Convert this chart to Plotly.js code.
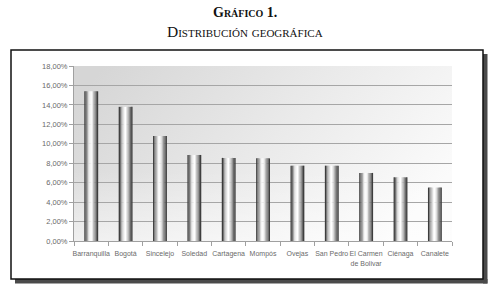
<!DOCTYPE html>
<html>
<head>
<meta charset="utf-8">
<script src="https://cdn.plot.ly/plotly-3.0.1.min.js"></script>
<style>html,body{margin:0;padding:0;background:#fff;}#chart{width:490px;height:286px;}</style>
</head>
<body>
<div id="chart"></div>
<script>
var categories = ["Barranquilla", "Bogotá", "Sincelejo", "Soledad", "Cartagena", "Mompós", "Ovejas", "San Pedro", "El Carmen<br>de Bolivar", "Ciénaga", "Canalete"];
var values = [15.4, 13.8, 10.8, 8.85, 8.55, 8.5, 7.75, 7.75, 7.0, 6.55, 5.5];
var yTicks = [0, 2, 4, 6, 8, 10, 12, 14, 16, 18];
var yTickText = yTicks.map(function (v) { return v.toFixed(2).replace(".", ",") + "%"; });
var chartTitle = "Gráfico 1.";
var chartSubtitle = "Distribución geográfica";

var W = 490, H = 286;
var M = {l: 74, r: 38, t: 66, b: 45};
var pw = W - M.l - M.r, ph = H - M.t - M.b;
function px(x) { return (x - M.l) / pw; }
function py(y) { return (H - M.b - y) / ph; }

// cylinder shading: slices across each bar
var barW = 0.40;
var shades = ["#3c3c3c", "#747474", "#aaaaaa", "#dadada", "#f6f6f6", "#ffffff", "#e6e6e6", "#bdbdbd", "#959595", "#6a6a6a", "#3e3e3e"];
var traces = [];
var n = shades.length;
for (var i = 0; i < n; i++) {
  var a = -barW / 2 + barW * i / n;
  traces.push({
    type: "bar",
    x: categories,
    y: values,
    offset: a,
    width: barW / n + 0.004,
    marker: {color: shades[i], line: {width: 0}},
    hoverinfo: "skip",
    showlegend: false
  });
}

var svgGrad = '<svg xmlns="http://www.w3.org/2000/svg" width="400" height="200" preserveAspectRatio="none">' +
  '<defs><linearGradient id="g" x1="0" y1="0.2" x2="1" y2="0.6">' +
  '<stop offset="0" stop-color="#d6d6d6"/><stop offset="0.5" stop-color="#e9e9e9"/><stop offset="1" stop-color="#fbfbfb"/>' +
  '</linearGradient><linearGradient id="h" x1="0" y1="0" x2="0" y2="1">' +
  '<stop offset="0.6" stop-color="#ffffff" stop-opacity="0"/><stop offset="1" stop-color="#ffffff" stop-opacity="0.5"/>' +
  '</linearGradient></defs><rect width="400" height="200" fill="url(#g)"/><rect width="400" height="200" fill="url(#h)"/></svg>';
var bgSrc = "data:image/svg+xml;charset=utf-8," + encodeURIComponent(svgGrad);

var shapes = [
  {type: "rect", xref: "paper", yref: "paper", x0: px(483), x1: px(487.5), y0: py(283.5), y1: py(54),
   fillcolor: "#4a4a4a", line: {width: 0}, layer: "below"},
  {type: "rect", xref: "paper", yref: "paper", x0: px(15), x1: px(487.5), y0: py(283.5), y1: py(279),
   fillcolor: "#4a4a4a", line: {width: 0}, layer: "below"},
  {type: "rect", xref: "paper", yref: "paper", x0: px(11), x1: px(483), y0: py(279), y1: py(50),
   fillcolor: "rgba(0,0,0,0)", line: {color: "#111111", width: 1.5}, layer: "below"}
];

var tickFont = {family: "Liberation Sans, Arial, sans-serif", size: 7, color: "#6a6a6a"};

var layout = {
  width: W, height: H,
  margin: M,
  paper_bgcolor: "#ffffff",
  plot_bgcolor: "rgba(0,0,0,0)",
  barmode: "overlay",
  showlegend: false,
  shapes: shapes,
  images: [{source: bgSrc, xref: "paper", yref: "paper", x: 0, y: 1, sizex: 1, sizey: 1,
            sizing: "stretch", xanchor: "left", yanchor: "top", layer: "below"}],
  xaxis: {
    type: "category",
    range: [-0.5, categories.length - 0.5],
    showgrid: false,
    showline: true, linecolor: "#a0a0a0", linewidth: 1,
    ticks: "outside", tickson: "boundaries", ticklen: 4, tickcolor: "#a0a0a0",
    ticklabelstandoff: 6,
    tickfont: tickFont,
    tickangle: 0,
    fixedrange: true
  },
  yaxis: {
    range: [0, 18],
    tickvals: yTicks,
    ticktext: yTickText,
    showgrid: true, gridcolor: "#a6a6a6", gridwidth: 1,
    showline: true, linecolor: "#a0a0a0", linewidth: 1,
    zeroline: false,
    ticks: "outside", ticklen: 4, tickcolor: "#a0a0a0",
    tickfont: {family: "Liberation Sans, Arial, sans-serif", size: 7.5, color: "#6a6a6a"},
    fixedrange: true
  },
  annotations: [
    {text: chartTitle, xref: "paper", yref: "paper", x: px(245), y: py(13), xanchor: "center", yanchor: "middle",
     showarrow: false, font: {family: "Liberation Serif, DejaVu Serif, serif", size: 14, color: "#111111", weight: 700, variant: "small-caps"}},
    {text: chartSubtitle, xref: "paper", yref: "paper", x: px(245), y: py(31), xanchor: "center", yanchor: "middle",
     showarrow: false, font: {family: "Liberation Serif, DejaVu Serif, serif", size: 15.5, color: "#111111", variant: "small-caps"}}
  ]
};

Plotly.newPlot("chart", traces, layout, {displayModeBar: false, staticPlot: true});
</script>
</body>
</html>
